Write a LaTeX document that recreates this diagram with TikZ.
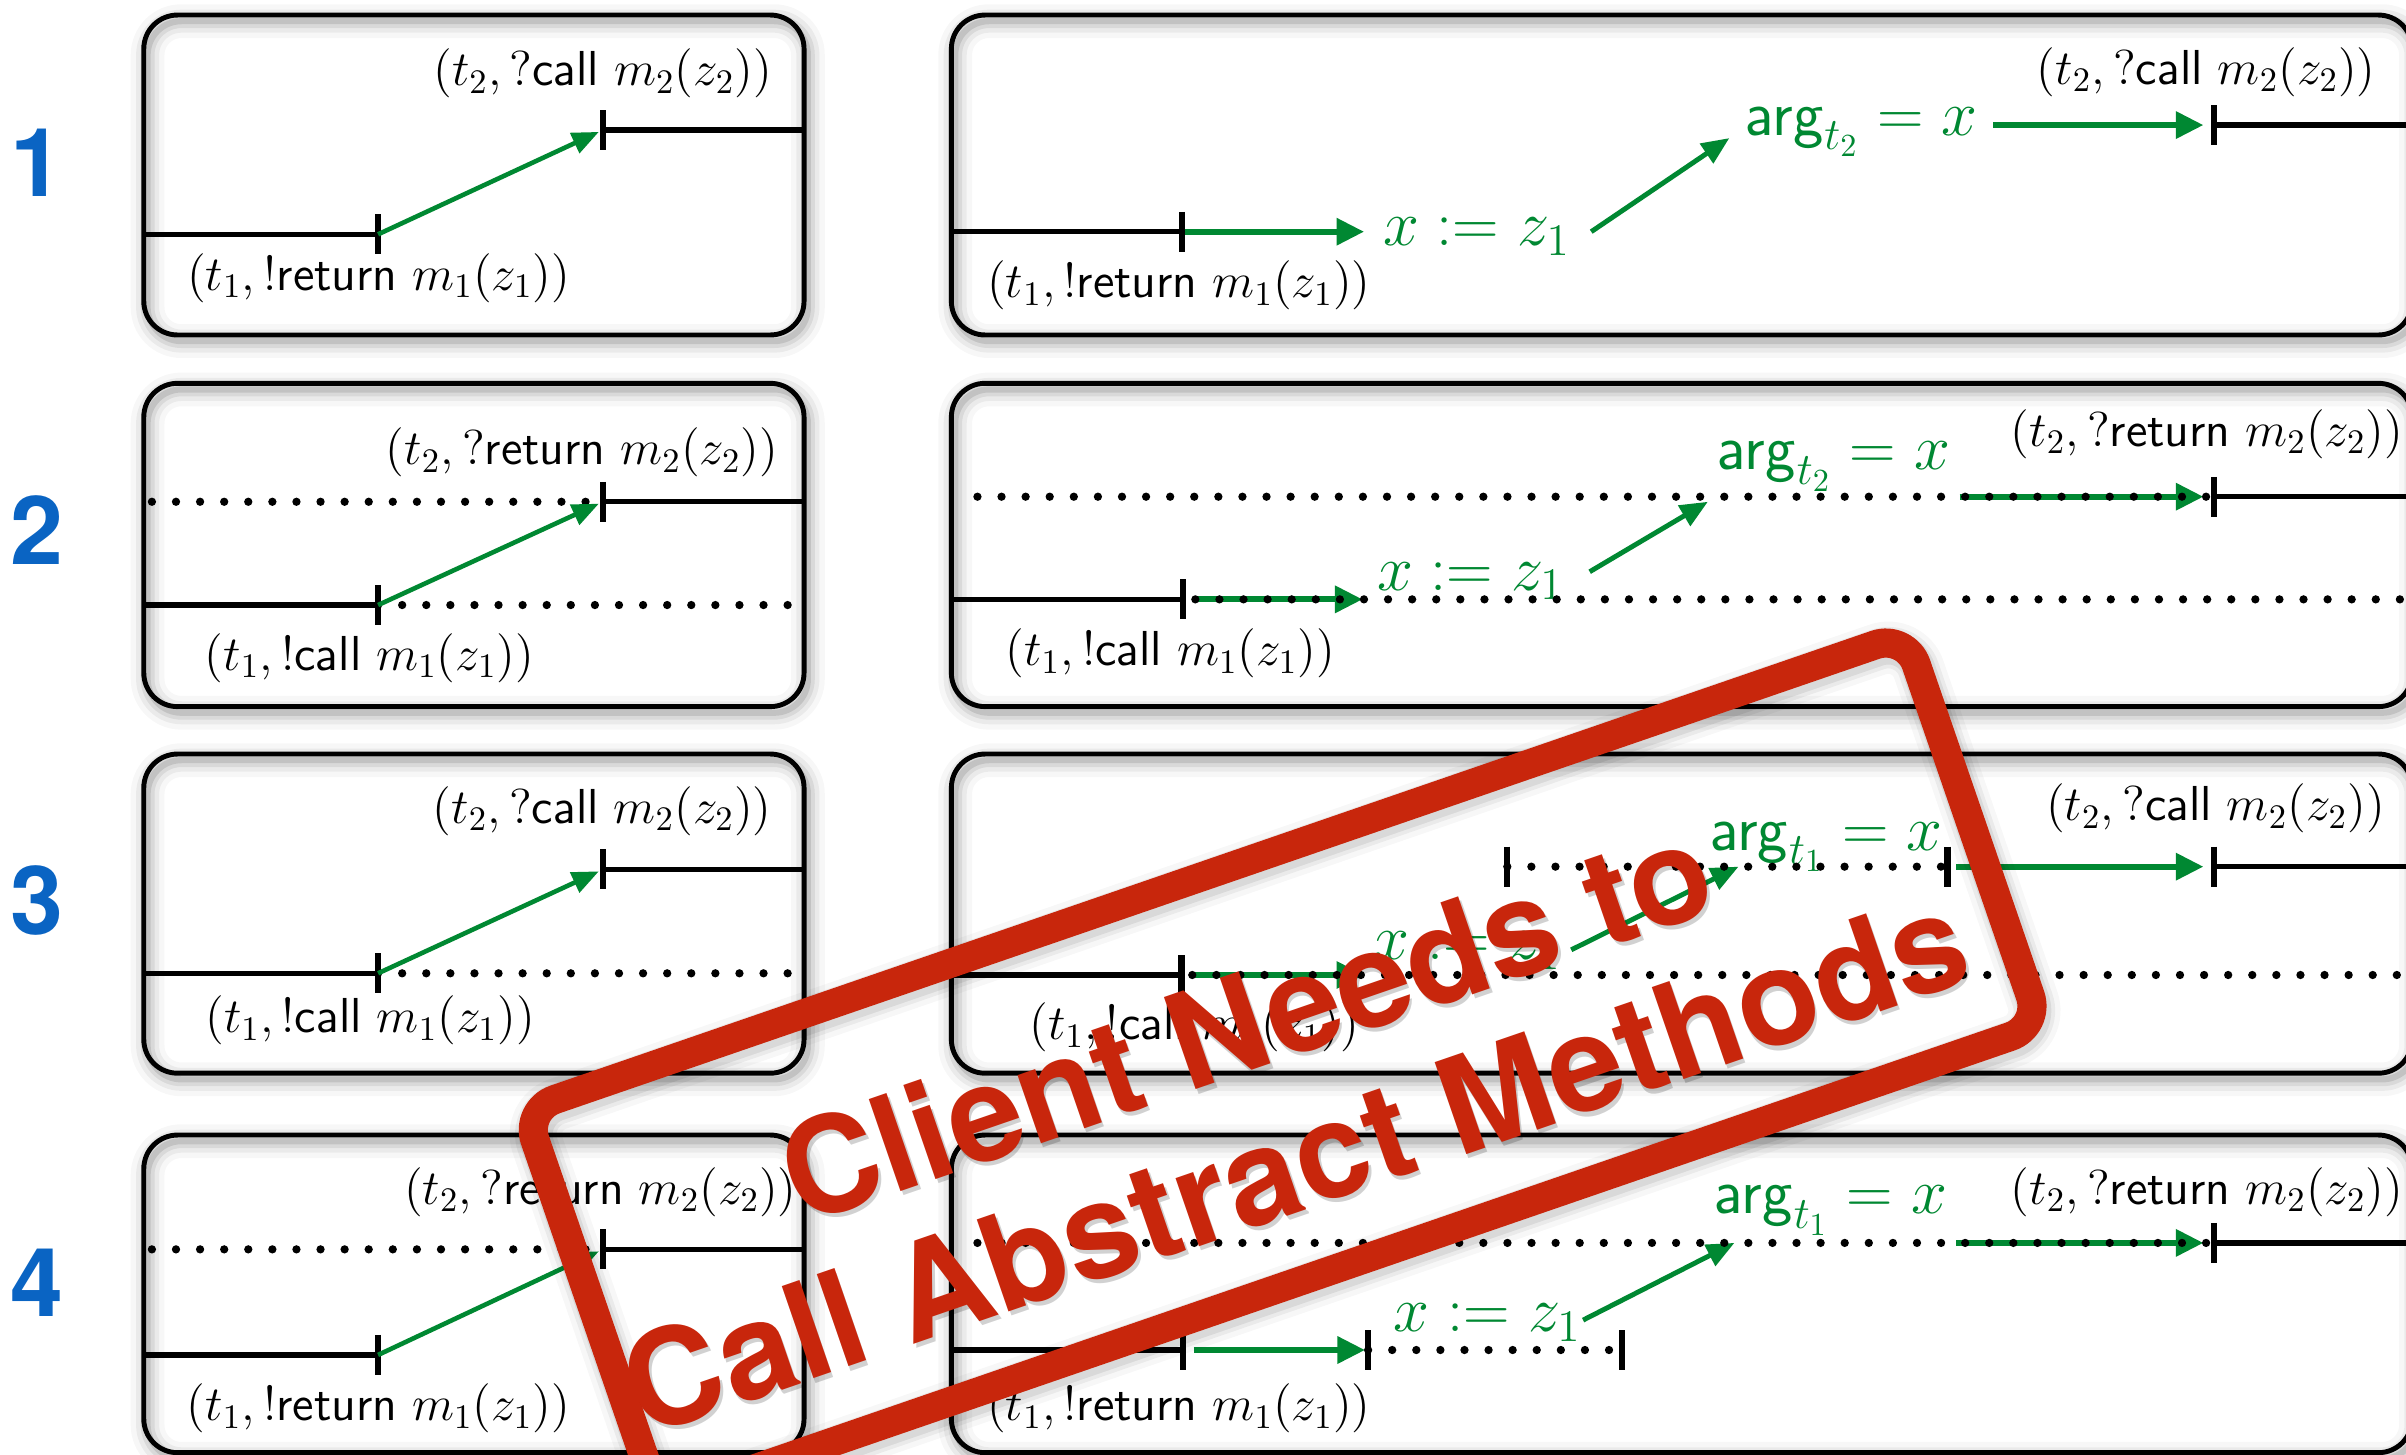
\RequirePackage{fix-cm}
\documentclass[tikz,border=0pt]{standalone}
\usepackage[no-math]{fontspec}
\newfontfamily\stampfont{TeX Gyre Heros}
\usetikzlibrary{arrows.meta}

\definecolor{ggreen}{RGB}{0,136,50}
\definecolor{numblue}{RGB}{10,100,195}
\definecolor{stampred}{RGB}{200,38,12}

\tikzset{
  boxline/.style={draw=black, line width=1.6pt, rounded corners=11pt},
  haze/.style={draw=black, rounded corners=11pt, shift={(2.5,4)}},
  solidl/.style={line width=1.75pt},
  dotl/.style={line width=2.7pt, line cap=round, dash pattern=on 0pt off 7.85pt},
  tickl/.style={line width=2pt},
  garrow/.style={draw=ggreen, line width=2pt, -{Triangle[length=9pt,width=8.5pt]}},
  gdiag/.style={draw=ggreen, line width=1.6pt, -{Triangle[length=9pt,width=7.5pt]}},
  ldiag/.style={draw=ggreen, line width=1.5pt, -{Triangle[length=8.7pt,width=7pt]}},
  lbl/.style={inner sep=0pt, anchor=base west, font=\fontsize{16}{19}\selectfont},
  gtxt/.style={inner sep=0pt, anchor=base west, text=ggreen, font=\fontsize{21}{25}\selectfont},
  rownum/.style={anchor=base, inner sep=0pt, text=numblue, font=\stampfont\bfseries\fontsize{31}{31}\selectfont},
  vtick/.pic={\draw[tickl] (0,-13) -- (0,13);},
  stampframe/.style={rotate=19, rounded corners=10.5pt, minimum width=476pt, minimum height=135pt, inner sep=0pt},
  stampfontstyle/.style={rotate=19, inner sep=0pt, align=center, font=\stampfont\bfseries\fontsize{43.5}{48.5}\selectfont},
}

% rounded panel with a soft shadow under its outline
\newcommand\panelbox[4]{%
  \foreach \w/\o in {11pt/0.03,7.5pt/0.05,4.5pt/0.07,2pt/0.10}{%
    \draw[haze, line width=\w, opacity=\o] (#1,#2) rectangle (#3,#4);}%
  \draw[boxline] (#1,#2) rectangle (#3,#4);}

\begin{document}
\begin{tikzpicture}[x=0.5pt, y=-0.5pt]
\fill[white] (0,0) rectangle (1568,948);
\useasboundingbox (0,0) rectangle (1568,948);

% ---------- panels ----------
\panelbox{93.7}{9.8}{524}{218.3}
\panelbox{620}{9.8}{1572}{218.3}
\panelbox{93.7}{249.8}{524}{460.5}
\panelbox{620}{249.8}{1572}{460.5}
\panelbox{93.7}{491.4}{524}{699.4}
\panelbox{620}{491.4}{1572}{699.4}
\panelbox{93.7}{739.7}{524}{946.7}
\panelbox{620}{739.7}{1572}{946.7}

% ---------- row numbers ----------
\node[rownum] (n1) at (24,128) {1};
\node[rownum] (n2) at (24,368) {2};
\node[rownum] (n3) at (24,609) {3};
\node[rownum] (n4) at (24,858) {4};

% ================= row 1 =================
% left panel
\coordinate (a1l) at (93.7,152.7);
\coordinate (a1s) at (246.4,152.7);
\coordinate (a1r) at (393,84.7);
\coordinate (a1e) at (524,84.7);
\draw[solidl] (a1l) -- (a1s);
\draw[solidl] (a1r) -- (a1e);
\pic at (a1s) {vtick}; \pic at (a1r) {vtick};
\draw[ldiag, shorten >=1.5pt] (a1s) -- (a1r);
\node[lbl] (a1t2) at (282,56) {$(t_2, ?\mathsf{call}\ m_2(z_2))$};
\node[lbl] (a1t1) at (121.5,189) {$(t_1, !\mathsf{return}\ m_1(z_1))$};
% right panel
\coordinate (b1l) at (620,151);
\coordinate (b1s) at (770.5,151);
\coordinate (b1sa) at (772,151);
\coordinate (b1sb) at (889,151);
\coordinate (b1da) at (1037,151);
\coordinate (b1db) at (1127,90);
\coordinate (b1ha) at (1299,81.5);
\coordinate (b1hb) at (1436,81.5);
\coordinate (b1r) at (1443,81.5);
\coordinate (b1e) at (1572,81.5);
\draw[solidl] (b1l) -- (b1s);
\draw[solidl] (b1r) -- (b1e);
\pic at (b1s) {vtick}; \pic at (b1r) {vtick};
\node[gtxt] (b1x) at (901,160) {$x := z_1$};
\node[gtxt] (b1g) at (1137,88) {$\mathsf{arg}_{t_2} = x$};
\draw[garrow] (b1sa) -- (b1sb);
\draw[gdiag] (b1da) -- (b1db);
\draw[garrow] (b1ha) -- (b1hb);
\node[lbl] (b1t2) at (1327,55) {$(t_2, ?\mathsf{call}\ m_2(z_2))$};
\node[lbl] (b1t1) at (643,194) {$(t_1, !\mathsf{return}\ m_1(z_1))$};

% ================= row 2 =================
% left panel
\coordinate (a2l) at (93.7,394.3);
\coordinate (a2s) at (246.4,394.3);
\coordinate (a2e2) at (522,394.3);
\coordinate (a2u) at (99,327);
\coordinate (a2r) at (393,327);
\coordinate (a2e) at (524,327);
\draw[solidl] (a2l) -- (a2s);
\draw[solidl] (a2r) -- (a2e);
\draw[dotl] (a2s) -- (a2e2);
\draw[dotl] (a2u) -- (a2r);
\pic at (a2s) {vtick}; \pic at (a2r) {vtick};
\draw[ldiag, shorten >=1.5pt] (a2s) -- (a2r);
\node[lbl] (a2t2) at (251,303) {$(t_2, ?\mathsf{return}\ m_2(z_2))$};
\node[lbl] (a2t1) at (133,437) {$(t_1, !\mathsf{call}\ m_1(z_1))$};
% right panel
\coordinate (b2l) at (620,390.6);
\coordinate (b2s) at (771,390.6);
\coordinate (b2sa) at (779,390.6);
\coordinate (b2sb) at (888,390.6);
\coordinate (b2e2) at (1572,390.6);
\coordinate (b2da) at (1036,372.6);
\coordinate (b2db) at (1113,327);
\coordinate (b2u) at (637,323.7);
\coordinate (b2ha) at (1277,323.7);
\coordinate (b2hb) at (1436,323.7);
\coordinate (b2r) at (1443,323.7);
\coordinate (b2e) at (1572,323.7);
\draw[solidl] (b2l) -- (b2s);
\draw[solidl] (b2r) -- (b2e);
\node[gtxt] (b2x) at (897,384.5) {$x := z_1$};
\node[gtxt] (b2g) at (1119,306) {$\mathsf{arg}_{t_2} = x$};
\draw[garrow] (b2sa) -- (b2sb);
\draw[gdiag] (b2da) -- (b2db);
\draw[garrow] (b2ha) -- (b2hb);
\draw[dotl] (b2sa) -- (b2e2);
\draw[dotl] (b2u) -- (b2r);
\pic at (b2s) {vtick}; \pic at (b2r) {vtick};
\node[lbl] (b2t2) at (1310,291) {$(t_2, ?\mathsf{return}\ m_2(z_2))$};
\node[lbl] (b2t1) at (655,434) {$(t_1, !\mathsf{call}\ m_1(z_1))$};

% ================= row 3 =================
% left panel
\coordinate (a3l) at (93.7,634.3);
\coordinate (a3s) at (246.4,634.3);
\coordinate (a3e2) at (522,634.3);
\coordinate (a3r) at (393,566.6);
\coordinate (a3e) at (524,566.6);
\draw[solidl] (a3l) -- (a3s);
\draw[solidl] (a3r) -- (a3e);
\draw[dotl] (a3s) -- (a3e2);
\pic at (a3s) {vtick}; \pic at (a3r) {vtick};
\draw[ldiag, shorten >=1.5pt] (a3s) -- (a3r);
\node[lbl] (a3t2) at (281.6,536.4) {$(t_2, ?\mathsf{call}\ m_2(z_2))$};
\node[lbl] (a3t1) at (133.4,673) {$(t_1, !\mathsf{call}\ m_1(z_1))$};
% right panel
\coordinate (b3l) at (620,635.4);
\coordinate (b3s) at (770,635.4);
\coordinate (b3sa) at (777,635.4);
\coordinate (b3sb) at (889,635.4);
\coordinate (b3e2) at (1572,635.4);
\coordinate (b3da) at (1024,619);
\coordinate (b3db) at (1133,564.8);
\coordinate (b3p) at (982.3,564.8);
\coordinate (b3q) at (1269.2,564.8);
\coordinate (b3ha) at (1275,564.8);
\coordinate (b3hb) at (1436,564.8);
\coordinate (b3r) at (1443,564.8);
\coordinate (b3e) at (1572,564.8);
\draw[solidl] (b3l) -- (b3s);
\draw[solidl] (b3r) -- (b3e);
\node[gtxt] (b3x) at (895,625.6) {$x := z_1$};
\node[gtxt] (b3g) at (1114,554) {$\mathsf{arg}_{t_1} = x$};
\draw[garrow] (b3sa) -- (b3sb);
\draw[gdiag] (b3da) -- (b3db);
\draw[garrow] (b3ha) -- (b3hb);
\draw[dotl] (b3sa) -- (b3e2);
\draw[dotl] (b3p) -- (b3q);
\pic at (b3s) {vtick}; \pic at (b3p) {vtick}; \pic at (b3q) {vtick}; \pic at (b3r) {vtick};
\node[lbl] (b3t2) at (1333,535) {$(t_2, ?\mathsf{call}\ m_2(z_2))$};
\node[lbl] (b3t1) at (670.6,677.6) {$(t_1, !\mathsf{call}\ m_1(z_1))$};

% ================= row 4 =================
% left panel
\coordinate (a4l) at (93.7,883);
\coordinate (a4s) at (246.4,883);
\coordinate (a4u) at (99,814.2);
\coordinate (a4r) at (393,814.2);
\coordinate (a4e) at (524,814.2);
\draw[solidl] (a4l) -- (a4s);
\draw[solidl] (a4r) -- (a4e);
\draw[dotl] (a4u) -- (a4r);
\pic at (a4s) {vtick}; \pic at (a4r) {vtick};
\draw[ldiag, shorten >=1.5pt] (a4s) -- (a4r);
\node[lbl] (a4t2) at (263,785) {$(t_2, ?\mathsf{return}\ m_2(z_2))$};
\node[lbl] (a4t1) at (121.4,926) {$(t_1, !\mathsf{return}\ m_1(z_1))$};
% right panel
\coordinate (b4l) at (620,879.8);
\coordinate (b4s) at (771,879.8);
\coordinate (b4sa) at (778,879.8);
\coordinate (b4sb) at (889.6,879.8);
\coordinate (b4p) at (891.6,879.8);
\coordinate (b4q) at (1057,879.8);
\coordinate (b4da) at (1031.7,860.3);
\coordinate (b4db) at (1130.3,810);
\coordinate (b4u) at (637,810);
\coordinate (b4ha) at (1275,810);
\coordinate (b4hb) at (1436,810);
\coordinate (b4r) at (1443,810);
\coordinate (b4e) at (1572,810);
\draw[solidl] (b4l) -- (b4s);
\draw[solidl] (b4r) -- (b4e);
\node[gtxt] (b4x) at (908,868) {$x := z_1$};
\node[gtxt] (b4g) at (1117,791) {$\mathsf{arg}_{t_1} = x$};
\draw[garrow] (b4sa) -- (b4sb);
\draw[gdiag] (b4da) -- (b4db);
\draw[garrow] (b4ha) -- (b4hb);
\draw[dotl] (b4p) -- (b4q);
\draw[dotl] (b4u) -- (b4r);
\pic at (b4s) {vtick}; \pic at (b4p) {vtick}; \pic at (b4q) {vtick}; \pic at (b4r) {vtick};
\node[lbl] (b4t2) at (1310,785) {$(t_2, ?\mathsf{return}\ m_2(z_2))$};
\node[lbl] (b4t1) at (643,926) {$(t_1, !\mathsf{return}\ m_1(z_1))$};

% ================= stamp =================
\foreach \w/\o in {17pt/0.03,13.5pt/0.05,11pt/0.07}{%
  \node[stampframe, draw=black, line width=\w, opacity=\o] at (837.5,699) {};}
\node[stampframe, draw=stampred, line width=9.5pt] (stamp) at (835.9,696) {};
\node[stampfontstyle, text=black, opacity=0.18] (stampshade) at (829.4,714) {Client Needs to\\Call Abstract Methods};
\node[stampfontstyle, text=stampred] (stamptext) at (827.7,711.3) {Client Needs to\\Call Abstract Methods};
\end{tikzpicture}
\end{document}
